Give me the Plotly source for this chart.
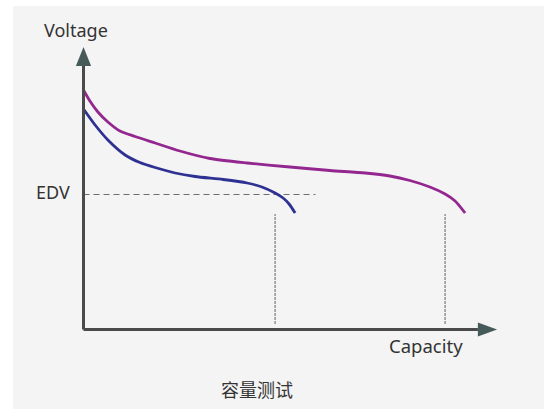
import plotly.graph_objects as go

# ---- data (capacity in arbitrary %, voltage in V) ----
blue_capacity = [0, 2.9, 6.1, 10.4, 14.1, 17.9, 22.9, 27.9, 34.9, 40.9, 44.6, 47.9, 49.9, 51.4, 52.9]
blue_voltage = [4.41, 4.09, 3.79, 3.49, 3.34, 3.24, 3.13, 3.06, 3.00, 2.93, 2.85, 2.73, 2.63, 2.51, 2.33]

purple_capacity = [0, 1.6, 3.6, 6.1, 9.1, 12.9, 17.9, 24.1, 31.6, 40.9, 51.6, 61.6, 70.4,
                   76.6, 81.6, 86.6, 90.4, 92.9, 95.4]
purple_voltage = [4.79, 4.57, 4.35, 4.15, 3.97, 3.86, 3.73, 3.57, 3.42, 3.33, 3.25, 3.18, 3.13,
                  3.07, 2.98, 2.85, 2.71, 2.57, 2.33]

edv_voltage = 2.70
edv_line_end = 58
cutoff_capacities = [47.9, 90.4]
cutoff_top = 2.31
cutoff_bottom = 0.11

x_axis_end = 98.6
x_arrow_tip = 103.4
y_axis_end = 5.27
y_arrow_tip = 5.65

AXIS = "#4a4a4a"
ARROW = "#475a5a"
TEXT = "#333333"
FONT = "Noto Sans, Noto Sans CJK SC, sans-serif"

fig = go.Figure()

fig.add_trace(go.Scatter(x=purple_capacity, y=purple_voltage, mode="lines",
                         line=dict(color="#93278f", width=2.8, shape="spline", smoothing=0.7),
                         hoverinfo="skip", showlegend=False))
fig.add_trace(go.Scatter(x=blue_capacity, y=blue_voltage, mode="lines",
                         line=dict(color="#2e3192", width=2.8, shape="spline", smoothing=0.7),
                         hoverinfo="skip", showlegend=False))

shapes = []
# EDV dashed line
shapes.append(dict(type="line", x0=0, x1=edv_line_end, y0=edv_voltage, y1=edv_voltage,
                   line=dict(color="#6e6e6e", width=1.2, dash="6px,4px"), layer="below"))
# vertical cutoff dotted lines
for c in cutoff_capacities:
    shapes.append(dict(type="line", x0=c, x1=c, y0=cutoff_bottom, y1=cutoff_top,
                       line=dict(color="#9a9a9a", width=1.6, dash="3px,1px"), layer="below"))
# axes
shapes.append(dict(type="line", x0=0, x1=0, y0=0, y1=y_axis_end, line=dict(color=AXIS, width=3)))
shapes.append(dict(type="line", x0=0, x1=x_axis_end, y0=0, y1=0, line=dict(color=AXIS, width=3)))
# arrowheads
ah_w = 1.9   # half-width in capacity units
ah_h = 0.14  # half-height in voltage units
shapes.append(dict(type="path",
                   path=f"M {-ah_w},{y_axis_end} L {ah_w},{y_axis_end} L 0,{y_arrow_tip} Z",
                   fillcolor=ARROW, line=dict(width=0)))
shapes.append(dict(type="path",
                   path=f"M {x_axis_end},{ah_h} L {x_axis_end},{-ah_h} L {x_arrow_tip},0 Z",
                   fillcolor=ARROW, line=dict(width=0)))

annotations = [
    dict(x=-1.9, y=5.99, text="Voltage", showarrow=False, xanchor="center", yanchor="middle",
         font=dict(size=18, color=TEXT, family=FONT)),
    dict(x=-2.9, y=2.76, text="EDV", showarrow=False, xanchor="right", yanchor="middle",
         font=dict(size=18, color=TEXT, family=FONT)),
    dict(x=85.6, y=-0.31, text="Capacity", showarrow=False, xanchor="center", yanchor="middle",
         font=dict(size=18.5, color=TEXT, family=FONT)),
    dict(x=43.4, y=-1.21, text="容量测试", showarrow=False, xanchor="center", yanchor="middle",
         font=dict(size=18, color=TEXT, family=FONT)),
]

fig.update_layout(
    width=544, height=410,
    margin=dict(l=13, r=0, t=6, b=1),
    paper_bgcolor="white",
    plot_bgcolor="#f4f4f4",
    shapes=shapes,
    annotations=annotations,
    xaxis=dict(range=[-17.625, 115.125], visible=False, fixedrange=True),
    yaxis=dict(range=[-1.59, 6.47], visible=False, fixedrange=True),
)

fig.write_html("out.html", config={"displayModeBar": False},
               post_script="document.body.style.margin='0px';document.body.style.overflow='hidden';")
